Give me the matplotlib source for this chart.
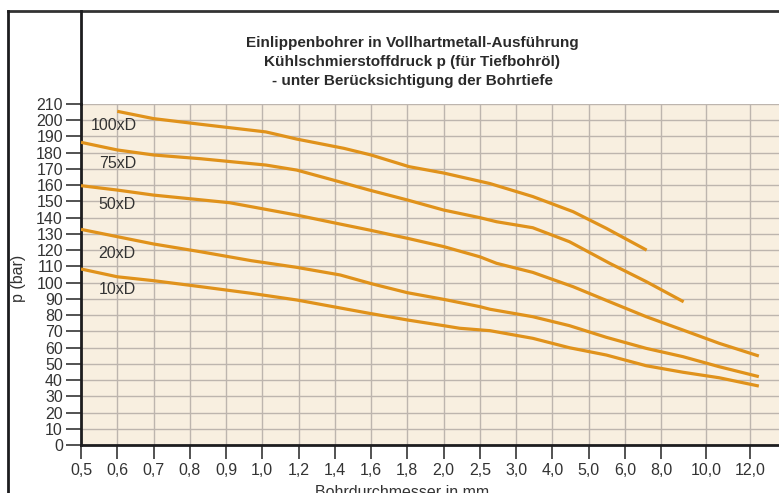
import matplotlib
matplotlib.use("Agg")
import matplotlib.pyplot as plt
from matplotlib.lines import Line2D
import numpy as np

FONT = ["Liberation Sans", "DejaVu Sans"]
plt.rcParams["font.family"] = FONT

LINE, BG, GRID, INK = "#E0921B", "#F8EFE0", "#BDB5AE", "#1d1d1f"

# x-axis: drill diameter (mm), non-uniform tick scale as in the source chart
x_ticks = [0.5, 0.6, 0.7, 0.8, 0.9, 1.0, 1.2, 1.4, 1.6, 1.8, 2.0, 2.5,
           3.0, 4.0, 5.0, 6.0, 8.0, 10.0, 12.0]
x_ticklabels = [f"{v:.1f}".replace(".", ",") for v in x_ticks]
y_ticks = list(range(0, 211, 10))

# pressure curves per drilling depth
x100 = [0.6, 0.7, 0.83, 1.02, 1.19, 1.45, 1.6, 1.81, 2.0, 2.64, 3.46, 4.57, 5.49, 7.2]
y100 = [205.5, 201.0, 197.5, 192.8, 188.4, 182.7, 178.6, 171.4, 167.5, 161.0, 153.0, 143.7, 133.4, 120.0]

x75 = [0.5, 0.6, 0.7, 0.83, 1.02, 1.19, 1.39, 1.59, 1.8, 2.0, 2.5, 2.73, 3.46, 4.47, 5.58, 7.18, 9.0]
y75 = [186.4, 181.7, 178.6, 176.3, 172.4, 169.3, 163.2, 157.0, 150.9, 144.7, 140.0, 137.5, 133.8,
       125.2, 111.9, 100.6, 88.2]

x50 = [0.5, 0.6, 0.7, 0.91, 1.02, 1.19, 1.41, 1.59, 1.8, 2.0, 2.5, 2.73, 3.46, 4.57, 5.58, 7.18,
       8.97, 10.6, 12.4]
y50 = [159.7, 157.0, 153.9, 149.2, 145.1, 141.6, 136.5, 132.4, 127.3, 122.2, 115.9, 111.9, 106.3,
       97.5, 88.2, 79.0, 70.8, 62.6, 54.8]

x20 = [0.5, 0.6, 0.7, 0.83, 0.97, 1.19, 1.43, 1.61, 1.8, 2.0, 2.5, 2.64, 3.46, 4.47, 5.49, 7.18,
       8.97, 10.6, 12.4]
y20 = [132.8, 128.3, 123.8, 119.0, 113.5, 109.4, 104.7, 99.1, 93.8, 89.7, 85.2, 83.6, 79.0, 73.5,
       66.3, 59.5, 54.4, 48.2, 42.1]

x10 = [0.5, 0.6, 0.7, 0.83, 0.97, 1.19, 1.39, 1.59, 1.8, 2.0, 2.22, 2.64, 3.46, 4.47, 5.49, 7.18,
       8.97, 10.6, 12.4]
y10 = [108.4, 103.6, 101.2, 97.5, 93.4, 89.3, 85.2, 81.1, 77.0, 73.5, 71.9, 70.4, 65.7, 59.9,
       55.4, 48.8, 44.8, 41.4, 36.3]

curve_labels = ["100xD", "75xD", "50xD", "20xD", "10xD"]
label_x = [0.59, 0.60, 0.60, 0.60, 0.60]
label_y = [197, 173.5, 148, 118, 95.5]

# piecewise-linear scale: equal steps up to 8,0, then slightly wider
_vals = [0.0] + x_ticks + [14.0]
_pos = [-5.0] + list(range(17)) + [17.24, 18.45, 19.67]


def fwd(x):
    return np.interp(x, _vals, _pos)


def inv(p):
    return np.interp(p, _pos, _vals)


W, H = 779, 493
fig = plt.figure(figsize=(W / 100, H / 100), dpi=100)
fig.patch.set_facecolor("white")

ax = fig.add_axes([81 / W, (H - 445) / H, 1 - 81 / W, (445 - 104) / H])
ax.set_facecolor(BG)
ax.set_xscale("function", functions=(fwd, inv))
ax.set_xlim(0.5, inv(19.25))
ax.set_ylim(0, 210)

ax.set_xticks(x_ticks)
ax.set_xticklabels(x_ticklabels)
ax.set_yticks(y_ticks)
ax.minorticks_off()
ax.grid(True, color=GRID, lw=1.0, zorder=0)
ax.set_axisbelow(True)

for s in ("top", "right"):
    ax.spines[s].set_visible(False)
for s in ("left", "bottom"):
    ax.spines[s].set_linewidth(2.0)
    ax.spines[s].set_color(INK)
ax.tick_params(axis="both", direction="out", length=11, width=1.3, color="#444",
               labelsize=11.5, labelcolor="#333", pad=2)
ax.tick_params(axis="x", length=10, pad=3)

for xs, ys in ((x100, y100), (x75, y75), (x50, y50), (x20, y20), (x10, y10)):
    ax.plot(xs, ys, color=LINE, lw=2.3, solid_capstyle="butt", zorder=3)

for t, lx, ly in zip(curve_labels, label_x, label_y):
    ax.text(lx, ly, t, fontsize=11.5, color="#333", ha="center", va="center", zorder=4)

ax.set_ylabel("p (bar)", fontsize=11.5, color="#333", labelpad=2)
ax.yaxis.set_label_coords((26 - 81) / (W - 81), 0.49)

# title block
title = ["Einlippenbohrer in Vollhartmetall-Ausführung",
         "Kühlschmierstoffdruck p (für Tiefbohröl)",
         "- unter Berücksichtigung der Bohrtiefe"]
for i, line in enumerate(title):
    fig.text(412 / W, 1 - (43 + 19 * i) / H, line, fontsize=11, fontweight="bold",
             color="#2a2a2a", ha="center", va="center")

fig.text(402 / W, 1 - 485 / H, "Bohrdurchmesser in mm", fontsize=11.5, color="#333",
         ha="center", va="top")

# outer frame and extended y axis line
fig.add_artist(Line2D([8 / W, 1], [1 - 11 / H, 1 - 11 / H], color="#333", lw=2.0))
fig.add_artist(Line2D([8 / W, 8 / W], [0, 1 - 11 / H], color=INK, lw=2.0))
fig.add_artist(Line2D([81 / W, 81 / W], [1 - 104 / H, 1 - 11 / H], color=INK, lw=2.0))

fig.savefig("out.png", dpi=100, facecolor="white")
